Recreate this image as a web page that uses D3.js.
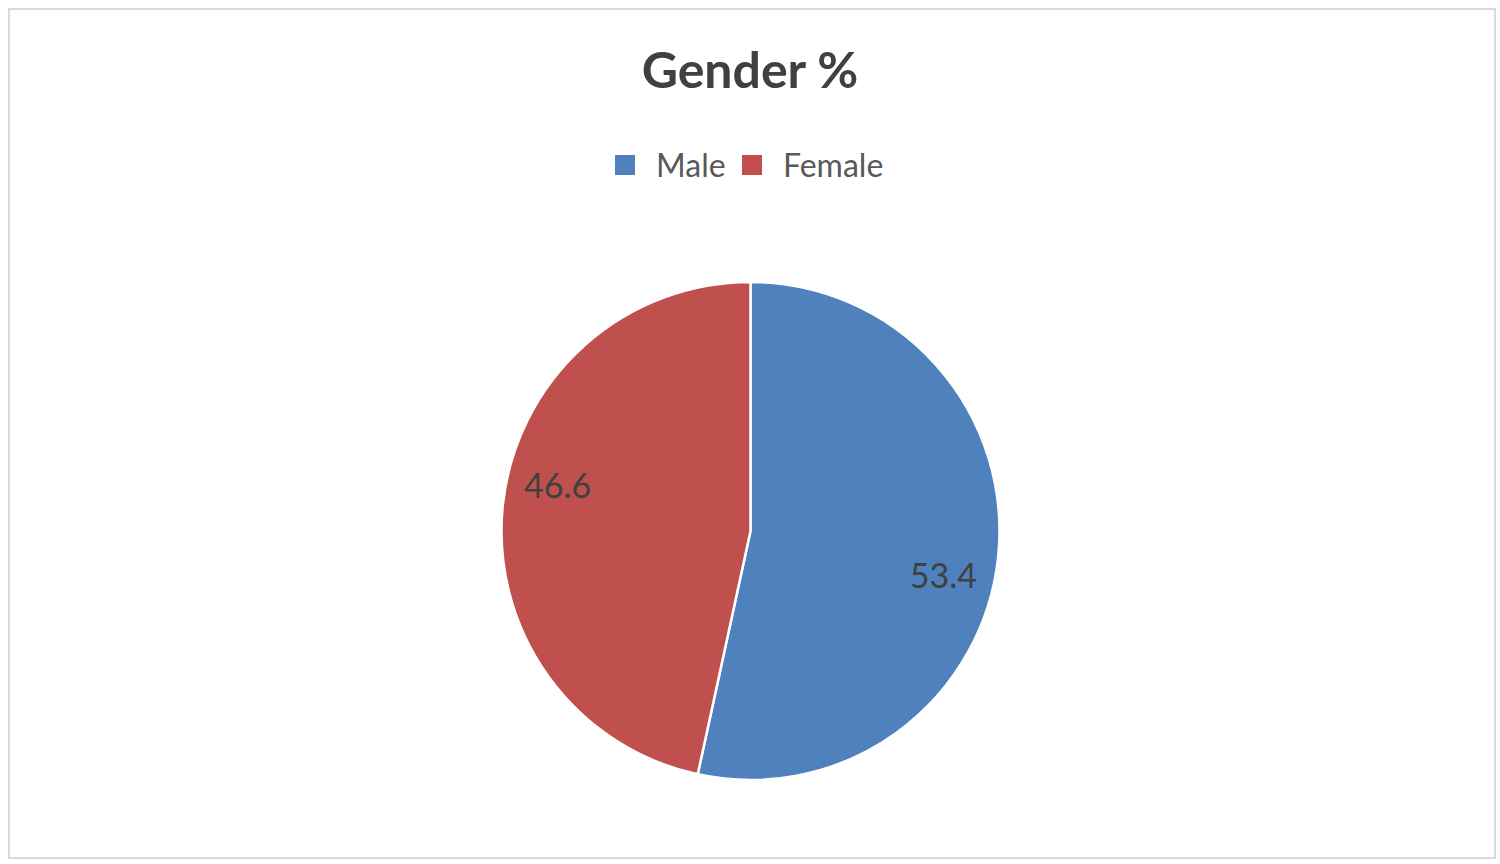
<!DOCTYPE html>
<html>
<head>
<meta charset="utf-8">
<script src="https://cdn.jsdelivr.net/npm/d3@7/dist/d3.min.js"></script>
<style>
  html, body { margin: 0; padding: 0; background: #fff; }
  svg { display: block; font-family: Lato, "Open Sans", sans-serif; }
</style>
</head>
<body>
<div id="chart"></div>
<script>
// data
var categories = ['Male', 'Female'];
var values = [53.4, 46.6];
var colors = ['#4F81BD', '#C0504D'];

var width = 1500, height = 864;
var cx = 750.5, cy = 531, radius = 249;
// labels sit at ~80% radius, nudged a few degrees clockwise like the original
var labelRadius = 198;
var labelShift = 7 * Math.PI / 180;

var svg = d3.select('#chart').append('svg')
  .attr('width', width)
  .attr('height', height);

// frame
svg.append('rect')
  .attr('x', 9).attr('y', 9)
  .attr('width', 1486).attr('height', 849)
  .attr('fill', '#fff')
  .attr('stroke', '#d9d9d9')
  .attr('stroke-width', 2);

// title
svg.append('text')
  .attr('x', 750).attr('y', 88)
  .attr('text-anchor', 'middle')
  .attr('font-size', 50)
  .attr('font-weight', 'bold')
  .attr('fill', '#404040')
  .text('Gender %');

// legend
var legend = svg.append('g');
var legendX = [615, 742];
var items = legend.selectAll('.item')
  .data(categories)
  .enter().append('g')
    .attr('class', 'item')
    .attr('transform', function (d, i) { return 'translate(' + legendX[i] + ',155)'; });
items.append('rect')
  .attr('width', 20).attr('height', 20)
  .attr('fill', function (d, i) { return colors[i]; });
items.append('text')
  .attr('x', 41).attr('y', 22)
  .attr('font-size', 32)
  .attr('fill', '#595959')
  .text(function (d) { return d; });

// pie
var pie = d3.pie().sort(null).value(function (d) { return d; });
var arc = d3.arc().innerRadius(0).outerRadius(radius);
var arcs = pie(values);

var g = svg.append('g').attr('transform', 'translate(' + cx + ',' + cy + ')');
g.selectAll('path')
  .data(arcs)
  .enter().append('path')
    .attr('d', arc)
    .attr('fill', function (d, i) { return colors[i]; })
    .attr('stroke', '#fff')
    .attr('stroke-width', 2.5)
    .attr('stroke-linejoin', 'round');

g.selectAll('.label')
  .data(arcs)
  .enter().append('text')
    .attr('class', 'label')
    .attr('x', function (d) { return Math.sin((d.startAngle + d.endAngle) / 2 + labelShift) * labelRadius; })
    .attr('y', function (d) { return -Math.cos((d.startAngle + d.endAngle) / 2 + labelShift) * labelRadius; })
    .attr('dy', '0.35em')
    .attr('text-anchor', 'middle')
    .attr('font-size', 34)
    .attr('fill', '#404040')
    .text(function (d) { return d.data.toFixed(1); });
</script>
</body>
</html>
